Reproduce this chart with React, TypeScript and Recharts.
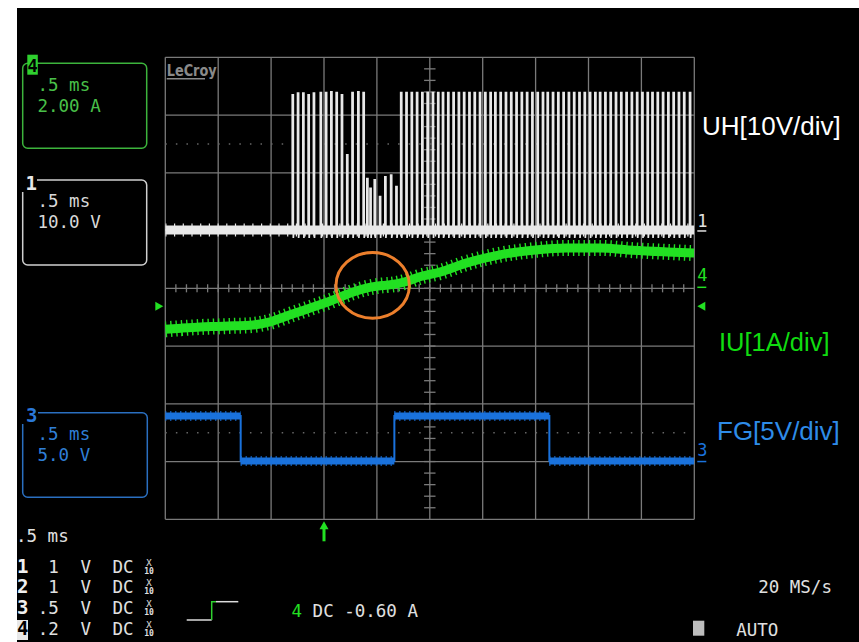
import { CartesianGrid, LineChart, Line, ReferenceDot, ReferenceLine, XAxis, YAxis } from 'recharts';

// screen is 10 x 8 divisions, time and level are in divisions
const X_DIVS = [0, 1, 2, 3, 4, 5, 6, 7, 8, 9, 10];
const Y_DIVS = [-4, -3, -2, -1, 0, 1, 2, 3, 4];
const X_MINOR = Array.from({ length: 49 }, (_, i) => (i + 1) * 0.2);
const Y_MINOR = Array.from({ length: 39 }, (_, i) => -3.8 + i * 0.2);
const DOTTED_LEVELS = [2.5, -2.5];

// UH (ch1): baseline and PWM pulses
const UH_BASE = 1.01;
const UH_PULSES_A = [2.4, 2.5, 2.6, 2.7, 2.8, 2.93, 3.03, 3.13, 3.23, 3.33, 3.43, 3.53, 3.64, 3.74];
const UH_TOPS_A = [3.35, 3.38, 3.38, 3.35, 3.38, 3.39, 3.39, 3.4, 3.39, 3.35, 2.31, 3.39, 3.4, 3.39];
const UH_PULSES_B = [3.81, 3.87, 3.95, 4.05, 4.15, 4.26, 4.36];
const UH_TOPS_B = [1.9, 1.73, 1.88, 1.59, 1.93, 1.96, 1.76];
const UH_PULSES_C = [
  4.45, 4.55, 4.65, 4.75, 4.85, 4.95, 5.05, 5.15, 5.24, 5.34,
  5.44, 5.54, 5.64, 5.74, 5.84, 5.94, 6.04, 6.14, 6.23, 6.33,
  6.43, 6.53, 6.63, 6.73, 6.83, 6.93, 7.03, 7.13, 7.22, 7.32,
  7.42, 7.52, 7.62, 7.72, 7.82, 7.92, 8.02, 8.12, 8.21, 8.31,
  8.41, 8.51, 8.61, 8.71, 8.81, 8.91, 9.01, 9.11, 9.2, 9.3,
  9.4, 9.5, 9.6, 9.7, 9.8, 9.91,
];
const UH_TOP_C = 3.39;

// IU (ch4): phase current, centre of the ripple band
const IU_T = [0, 0.3, 0.66, 1.0, 1.3, 1.6, 1.98, 2.36, 2.74, 3.12, 3.5, 3.88, 4.1, 4.25, 4.53, 4.81, 5.19, 5.7, 6.32, 6.95, 7.59, 8.22, 8.84, 9.49, 10];
const IU_V = [-0.71, -0.69, -0.67, -0.66, -0.65, -0.64, -0.58, -0.46, -0.34, -0.22, -0.08, 0.02, 0.05, 0.06, 0.11, 0.2, 0.28, 0.44, 0.58, 0.66, 0.7, 0.7, 0.66, 0.63, 0.61];

// FG (ch3): hall square wave
const FG_T = [0, 1.425, 1.425, 4.33, 4.33, 7.26, 7.26, 10];
const FG_V = [-2.21, -2.21, -2.99, -2.99, -2.21, -2.21, -2.99, -2.99];

const CH1_GND = 1.01;
const CH4_GND = 0;
const CH3_GND = -3.0;
const TRIG_LEVEL = -0.31;
const TRIG_TIME = 3.0;
const HIGHLIGHT = [{ t: 3.92, v: 0.05 }];

const WHITE = '#e8e8e8';
const GREEN = '#22e022';
const BLUE = '#1a72dc';
const GRID = '#7a7a7a';
const MONO = "'DejaVu Sans Mono', monospace";
const SANS = "'Liberation Sans', Arial, sans-serif";

const PW = 0.02;
const DIP = 0.14;

function uhPulseRows() {
  const pulses = [
    ...UH_PULSES_A.map((t, i) => ({ t, top: UH_TOPS_A[i] })),
    ...UH_PULSES_B.map((t, i) => ({ t, top: UH_TOPS_B[i] })),
    ...UH_PULSES_C.map((t) => ({ t, top: UH_TOP_C })),
  ];
  const rows: { t: number; v: number }[] = [{ t: 0, v: UH_BASE }];
  for (const p of pulses) {
    rows.push(
      { t: p.t, v: UH_BASE },
      { t: p.t, v: p.top },
      { t: p.t + PW, v: p.top },
      { t: p.t + PW, v: UH_BASE - DIP },
      { t: p.t + PW + 0.012, v: UH_BASE },
    );
  }
  rows.push({ t: 10, v: UH_BASE });
  return rows;
}

const iuRows = IU_T.map((t, i) => ({ t, v: IU_V[i] }));
const fgRows = FG_T.map((t, i) => ({ t, v: FG_V[i] }));
// flat levels only, broken at the edges
const fgLevelRows: { t: number; v: number | null }[] = [];
for (let i = 0; i < FG_T.length; i += 2) {
  fgLevelRows.push({ t: FG_T[i], v: FG_V[i] }, { t: FG_T[i + 1], v: FG_V[i + 1] }, { t: FG_T[i + 1], v: null });
}
const uhBaseRows = [{ t: 0, v: UH_BASE }, { t: 10, v: UH_BASE }];

function BoxText({ x, y, children, fill, size = 17.5 }: any) {
  return (
    <text x={x} y={y} fill={fill} fontFamily={MONO} fontSize={size}>
      {children}
    </text>
  );
}

function ChannelRow({ y, label, value, inverted }: any) {
  return (
    <g fill="#e0e0e0" fontFamily={MONO}>
      {inverted && <rect x={17} y={y - 15} width={11} height={20} fill="#e8e8e8" />}
      <text x={17} y={y} fontSize={19} fontWeight="bold" fill={inverted ? '#000' : '#f0f0f0'}>
        {label}
      </text>
      <text x={58.8} y={y} fontSize={17.5} textAnchor="end">{value}</text>
      <text x={80.5} y={y} fontSize={17.5}>V</text>
      <text x={112.5} y={y} fontSize={17.5}>DC</text>
      <text x={149} y={y - 7} fontSize={9} textAnchor="middle">X</text>
      <text x={149} y={y + 1} fontSize={8} textAnchor="middle" fontWeight="bold">10</text>
    </g>
  );
}

export default function App() {
  return (
    <div style={{ position: 'absolute', left: 0, top: 0, width: 859, height: 642, background: '#fff', overflow: 'hidden' }}>
      <div style={{ position: 'absolute', left: 17, top: 8, width: 842, height: 634, background: '#000' }} />
      <div style={{ position: 'absolute', left: 0, top: 0 }}>
        <LineChart width={859} height={642} margin={{ top: 57.3, right: 164.7, bottom: 122.7, left: 165.3 }}>
          <CartesianGrid stroke={GRID} strokeWidth={1.3} />
          <XAxis type="number" dataKey="t" domain={[0, 10]} ticks={X_DIVS} hide allowDataOverflow />
          <YAxis type="number" domain={[-4, 4]} ticks={Y_DIVS} hide allowDataOverflow />
          {DOTTED_LEVELS.map((v) => (
            <ReferenceLine key={v} y={v} stroke="#666" strokeWidth={1.5} strokeDasharray="1.5 9.08" />
          ))}
          {X_MINOR.map((t) => (
            <ReferenceLine key={'x' + t} segment={[{ x: t, y: -0.07 }, { x: t, y: 0.07 }]} stroke={GRID} strokeWidth={1.3} />
          ))}
          {Y_MINOR.map((v) => (
            <ReferenceLine key={'y' + v} segment={[{ x: 4.892, y: v }, { x: 5.108, y: v }]} stroke={GRID} strokeWidth={1.3} />
          ))}

          <Line data={uhBaseRows} dataKey="v" stroke={WHITE} strokeWidth={9} dot={false} activeDot={false} isAnimationActive={false} />
          <Line data={uhBaseRows} dataKey="v" stroke={WHITE} strokeWidth={13} strokeDasharray="1.2 7.5" dot={false} activeDot={false} isAnimationActive={false} />
          <Line data={uhPulseRows()} dataKey="v" type="linear" stroke={WHITE} strokeWidth={1.7} dot={false} activeDot={false} isAnimationActive={false} />

          <Line data={iuRows} dataKey="v" type="monotone" stroke={GREEN} strokeWidth={9} dot={false} activeDot={false} isAnimationActive={false} />
          <Line data={iuRows} dataKey="v" type="monotone" stroke={GREEN} strokeWidth={16} strokeDasharray="1.4 3.9" dot={false} activeDot={false} isAnimationActive={false} />

          <Line data={fgRows} dataKey="v" type="linear" stroke={BLUE} strokeWidth={2} dot={false} activeDot={false} isAnimationActive={false} />
          <Line data={fgLevelRows} dataKey="v" type="linear" stroke={BLUE} strokeWidth={7} dot={false} activeDot={false} isAnimationActive={false} />
          <Line data={fgLevelRows} dataKey="v" type="linear" stroke={BLUE} strokeWidth={10} strokeDasharray="1 4" dot={false} activeDot={false} isAnimationActive={false} />

          {HIGHLIGHT.map((h) => (
            <ReferenceDot
              key="hl"
              x={h.t}
              y={h.v}
              r={1}
              ifOverflow="visible"
              shape={(p: any) => <ellipse cx={p.cx} cy={p.cy} rx={36.7} ry={32.8} fill="none" stroke="#ec7f2c" strokeWidth={3} />}
            />
          ))}
          <ReferenceDot
            x={10}
            y={CH1_GND}
            r={1}
            ifOverflow="visible"
            shape={(p: any) => (
              <g>
                <text x={p.cx + 3} y={p.cy - 3} fill="#e0e0e0" fontFamily={MONO} fontSize={17}>1</text>
                <line x1={p.cx + 3} x2={p.cx + 12} y1={p.cy + 1} y2={p.cy + 1} stroke="#e0e0e0" strokeWidth={1.5} />
              </g>
            )}
          />
          <ReferenceDot
            x={10}
            y={CH4_GND}
            r={1}
            ifOverflow="visible"
            shape={(p: any) => (
              <g>
                <text x={p.cx + 3} y={p.cy - 7} fill={GREEN} fontFamily={MONO} fontSize={17}>4</text>
                <line x1={p.cx + 3} x2={p.cx + 12} y1={p.cy - 1} y2={p.cy - 1} stroke={GREEN} strokeWidth={1.5} />
              </g>
            )}
          />
          <ReferenceDot
            x={10}
            y={CH3_GND}
            r={1}
            ifOverflow="visible"
            shape={(p: any) => (
              <g>
                <text x={p.cx + 3} y={p.cy - 6} fill={BLUE} fontFamily={MONO} fontSize={17}>3</text>
                <line x1={p.cx + 3} x2={p.cx + 12} y1={p.cy} y2={p.cy} stroke={BLUE} strokeWidth={1.5} />
              </g>
            )}
          />
          <ReferenceDot
            x={0}
            y={TRIG_LEVEL}
            r={1}
            ifOverflow="visible"
            shape={(p: any) => <polygon points={`${p.cx - 10},${p.cy - 4.5} ${p.cx - 2},${p.cy} ${p.cx - 10},${p.cy + 4.5}`} fill={GREEN} />}
          />
          <ReferenceDot
            x={10}
            y={TRIG_LEVEL}
            r={1}
            ifOverflow="visible"
            shape={(p: any) => <polygon points={`${p.cx + 11},${p.cy - 4.5} ${p.cx + 3},${p.cy} ${p.cx + 11},${p.cy + 4.5}`} fill={GREEN} />}
          />
          <ReferenceDot
            x={TRIG_TIME}
            y={-4}
            r={1}
            ifOverflow="visible"
            shape={(p: any) => (
              <g>
                <polygon points={`${p.cx},${p.cy + 2} ${p.cx - 4.5},${p.cy + 10} ${p.cx + 4.5},${p.cy + 10}`} fill={GREEN} />
                <line x1={p.cx} x2={p.cx} y1={p.cy + 8} y2={p.cy + 22} stroke={GREEN} strokeWidth={3} />
              </g>
            )}
          />
        </LineChart>
      </div>

      <svg width={859} height={642} style={{ position: 'absolute', left: 0, top: 0, pointerEvents: 'none' }}>
        {/* LeCroy logo */}
        <text x={166.7} y={75.5} fill="#8a8a8a" fontFamily="'DejaVu Sans Condensed', 'DejaVu Sans', sans-serif" fontWeight="bold" fontSize={16} textLength={50} lengthAdjust="spacingAndGlyphs">LeCroy</text>
        <line x1={166.7} x2={205} y1={78.8} y2={78.8} stroke="#8a8a8a" strokeWidth={1.5} />

        {/* channel 4 box */}
        <rect x={22.7} y={63.3} width={124} height={85} rx={5} fill="none" stroke="#3cb43c" strokeWidth={1.5} />
        <rect x={27.3} y={54.7} width={10.5} height={20} fill="#2fd02f" />
        <text x={27.6} y={71.5} fill="#000" fontFamily={MONO} fontSize={17} fontWeight="bold">4</text>
        <BoxText x={37.5} y={90.7} fill="#49c049">.5 ms</BoxText>
        <BoxText x={37.5} y={111.7} fill="#49c049">2.00 A</BoxText>

        {/* channel 1 box */}
        <rect x={22.7} y={180} width={124} height={85} rx={5} fill="none" stroke="#cfcfcf" strokeWidth={1.5} />
        <rect x={21} y={172} width={16} height={20} fill="#000" />
        <text x={25.5} y={190} fill="#e8e8e8" fontFamily={MONO} fontSize={19} fontWeight="bold">1</text>
        <BoxText x={37.5} y={206.7} fill="#d8d8d8">.5 ms</BoxText>
        <BoxText x={37.5} y={228.3} fill="#d8d8d8">10.0 V</BoxText>

        {/* channel 3 box */}
        <rect x={22.7} y={412.7} width={124.6} height={84.6} rx={5} fill="none" stroke="#2a6fc0" strokeWidth={1.5} />
        <rect x={21} y={402} width={17} height={22} fill="#000" />
        <text x={26} y={422} fill="#2a78d8" fontFamily={MONO} fontSize={19} fontWeight="bold">3</text>
        <BoxText x={37.5} y={440} fill="#2f7fd6">.5 ms</BoxText>
        <BoxText x={37.5} y={461} fill="#2f7fd6">5.0 V</BoxText>

        {/* bottom-left channel table */}
        <BoxText x={16} y={541.7} fill="#e0e0e0">.5 ms</BoxText>
        <ChannelRow y={572.5} label="1" value="1" />
        <ChannelRow y={593} label="2" value="1" />
        <ChannelRow y={613.5} label="3" value=".5" />
        <ChannelRow y={635} label="4" value=".2" inverted />

        {/* trigger */}
        <polyline points="186.7,620 211.7,620" fill="none" stroke="#dcdcdc" strokeWidth={1.5} />
        <polyline points="211.7,620 211.7,601.7 216,601.7" fill="none" stroke="#2fd02f" strokeWidth={1.5} />
        <polyline points="216,601.7 238.3,601.7" fill="none" stroke="#dcdcdc" strokeWidth={1.5} />
        <BoxText x={291.4} y={616.7} fill={GREEN}>4</BoxText>
        <BoxText x={312.6} y={616.7} fill="#e0e0e0">DC -0.60 A</BoxText>

        {/* bottom-right */}
        <BoxText x={758.2} y={593.3} fill="#e0e0e0">20 MS/s</BoxText>
        <rect x={693} y={620.7} width={11.3} height={15} fill="#bdbdbd" />
        <BoxText x={736.2} y={636} fill="#e0e0e0">AUTO</BoxText>

        {/* signal names */}
        <text x={702} y={135} fill="#ffffff" fontFamily={SANS} fontSize={26}>UH[10V/div]</text>
        <text x={719} y={350.7} fill="#10dc10" fontFamily={SANS} fontSize={25.5}>IU[1A/div]</text>
        <text x={717} y={440} fill="#2e8ce8" fontFamily={SANS} fontSize={26}>FG[5V/div]</text>
      </svg>
    </div>
  );
}
